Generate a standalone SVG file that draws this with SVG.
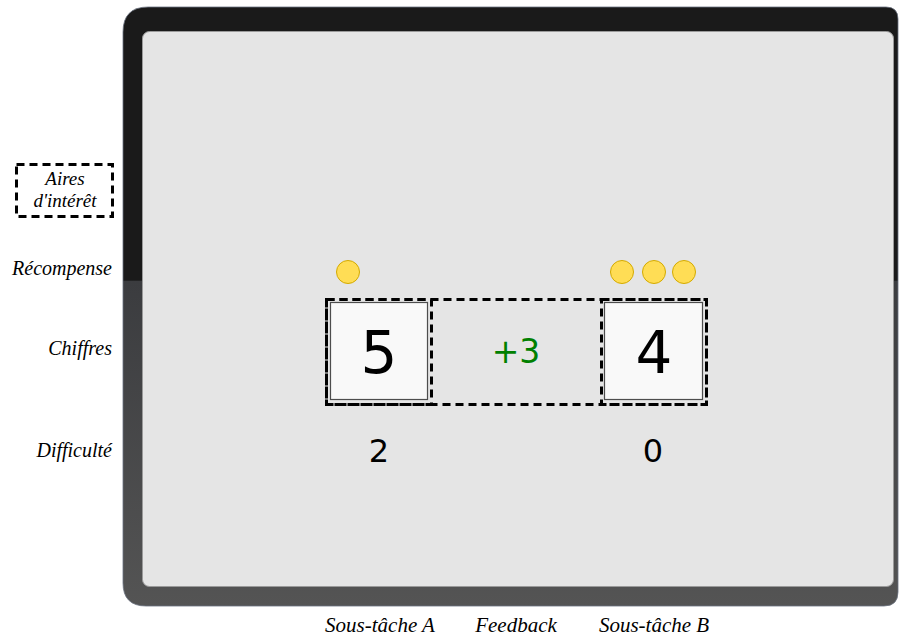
<svg xmlns="http://www.w3.org/2000/svg" width="903" height="637" viewBox="0 0 903 637">
<defs>
<linearGradient id="bezel" x1="0" y1="7" x2="0" y2="606" gradientUnits="userSpaceOnUse">
<stop offset="0" stop-color="#1a1a1a"/>
<stop offset="0.456" stop-color="#1a1a1a"/>
<stop offset="0.458" stop-color="#3b3c3f"/>
<stop offset="1" stop-color="#545454"/>
</linearGradient>
<style>
.lbl{font-family:"Liberation Serif","DejaVu Serif",serif;font-style:italic;font-size:20px;fill:#000}
.leg{font-family:"Liberation Serif","DejaVu Serif",serif;font-style:italic;font-size:19px;fill:#000;text-anchor:middle}
.bot{font-family:"Liberation Serif","DejaVu Serif",serif;font-style:italic;font-size:21px;fill:#000;text-anchor:middle}
.aoi{fill:none;stroke:#000;stroke-width:3;stroke-dasharray:8,5}
.card{fill:#f9f9f9;stroke:#4d4d4d;stroke-width:1.2}
.coin{fill:#ffdd55;stroke:#d4aa00;stroke-width:1}
.num{font-family:"DejaVu Sans",sans-serif;text-anchor:middle;fill:#000}
</style>
</defs>
<g id="device">
<path d="M148,7 H886 Q898,7 898,19 V592 Q898,606 884,606 H146 Q123,606 123,583 V32 Q123,7 148,7 Z" fill="url(#bezel)" stroke="#6b7280" stroke-width="0.8"/>
<rect x="142.5" y="31.5" width="751" height="555" rx="7" fill="#e5e5e5" stroke="#9a9a9a" stroke-width="1"/>
</g>
<g id="legend">
<rect class="aoi" x="16.5" y="164.5" width="96" height="52"/>
<text class="leg" x="65" y="185">Aires</text>
<text class="leg" x="65" y="207">d'intérêt</text>
</g>
<g id="row-labels">
<text class="lbl" x="112" y="275" text-anchor="end">Récompense</text>
<text class="lbl" x="112" y="355" text-anchor="end">Chiffres</text>
<text class="lbl" x="112" y="457" text-anchor="end">Difficulté</text>
</g>
<g id="subtaskA">
<circle class="coin" cx="348" cy="272" r="11.5"/>
<rect class="card" x="330.5" y="302.5" width="97" height="97"/>
<text class="num" x="379" y="373" font-size="58">5</text>
<text class="num" x="379" y="462" font-size="32">2</text>
</g>
<g id="feedback">
<text x="516" y="363" font-family="DejaVu Sans,sans-serif" font-size="33" fill="#008000" text-anchor="middle">+3</text>
</g>
<g id="subtaskB">
<circle class="coin" cx="622" cy="272" r="11.5"/>
<circle class="coin" cx="654" cy="272" r="11.5"/>
<circle class="coin" cx="684" cy="272" r="11.5"/>
<rect class="card" x="604.5" y="302.5" width="98" height="97"/>
<text class="num" x="654" y="373" font-size="58">4</text>
<text class="num" x="653" y="462" font-size="32">0</text>
</g>
<g id="aois">
<rect class="aoi" x="326.5" y="299.5" width="380" height="105"/>
<rect class="aoi" x="326.5" y="299.5" width="105" height="105"/>
<rect class="aoi" x="601.5" y="299.5" width="105" height="105"/>
</g>
<g id="column-labels">
<text class="bot" x="380" y="632">Sous-tâche A</text>
<text class="bot" x="516" y="632">Feedback</text>
<text class="bot" x="654" y="632">Sous-tâche B</text>
</g>
</svg>
